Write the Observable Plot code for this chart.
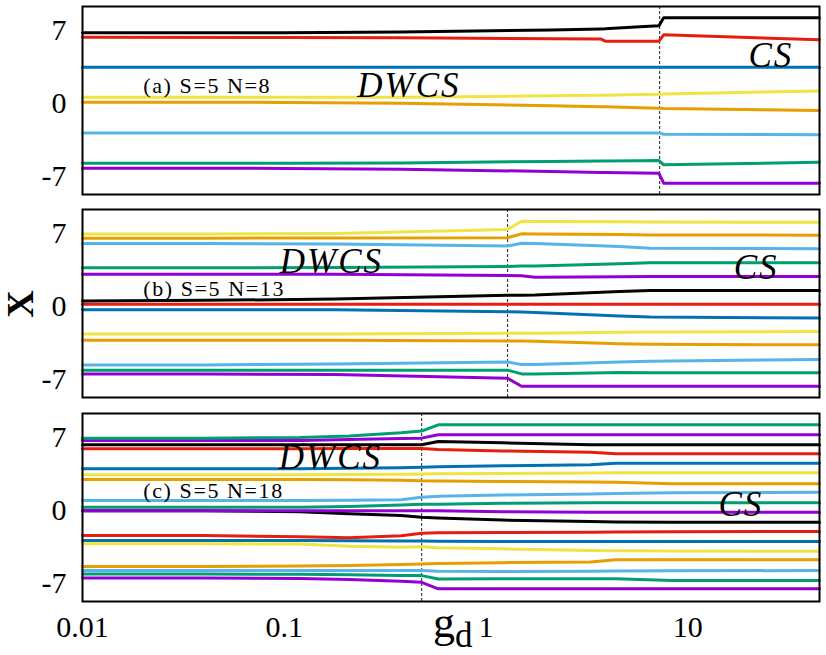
<!DOCTYPE html>
<html>
<head>
<meta charset="utf-8">
<script src="https://cdn.jsdelivr.net/npm/d3@7"></script>
<script src="https://cdn.jsdelivr.net/npm/@observablehq/plot@0.6"></script>
<style>
  html, body { margin: 0; padding: 0; background: #fff; }
  #chart { position: relative; width: 826px; height: 655px; overflow: hidden; font-family: "Liberation Serif", "DejaVu Serif", serif; }
  #chart > svg { position: absolute; left: 0; }
  #chart text { font-family: "Liberation Serif", "DejaVu Serif", serif; }
</style>
</head>
<body>
<div id="chart"></div>
<script>
// gnuplot default colour cycle: purple, green, light blue, orange, yellow, blue, red, black
const colors = ["#9400D3", "#009E73", "#56B4E9", "#E69F00", "#F0E442", "#0072B2", "#E51E10", "#000000"];

const xTicks = [0.01, 0.1, 1, 10];
const yTicks = [-7, 0, 7];

// Panel (a) S=5 N=8
const gdA = [0.01, 0.1, 0.38, 2.1, 3.7, 3.9, 5.8, 7.2, 7.6, 45];
const valuesA = [
  [-6.19, -6.2, -6.28, -6.5, -6.6, -6.6, -6.65, -6.67, -7.62, -7.62],
  [-5.71, -5.71, -5.68, -5.53, -5.5, -5.5, -5.46, -5.45, -5.86, -5.61],
  [-2.8, -2.8, -2.8, -2.8, -2.8, -2.8, -2.8, -2.8, -2.93, -2.97],
  [0.13, 0.12, 0.04, -0.2, -0.3, -0.3, -0.4, -0.44, -0.46, -0.66],
  [0.6, 0.6, 0.62, 0.75, 0.8, 0.8, 0.87, 0.9, 0.92, 1.22],
  [3.49, 3.49, 3.49, 3.49, 3.49, 3.49, 3.49, 3.49, 3.49, 3.49],
  [6.36, 6.33, 6.3, 6.22, 6.2, 5.98, 5.98, 5.98, 6.59, 6.11],
  [6.78, 6.78, 6.85, 7.05, 7.15, 7.16, 7.35, 7.45, 8.22, 8.22]
];

// Panel (b) S=5 N=13
const gdB = [0.01, 0.04, 0.18, 1.28, 1.5, 1.75, 4.6, 6.5, 45];
const valuesB = [
  [-6.44, -6.44, -6.5, -6.85, -7.62, -7.62, -7.62, -7.62, -7.62],
  [-6.1, -6.1, -6.1, -6.08, -6.44, -6.44, -6.3, -6.32, -6.34],
  [-5.58, -5.58, -5.5, -5.3, -5.55, -5.55, -5.3, -5.22, -5.07],
  [-3.22, -3.22, -3.22, -3.3, -3.3, -3.32, -3.55, -3.6, -3.66],
  [-2.62, -2.62, -2.62, -2.55, -2.55, -2.55, -2.45, -2.42, -2.39],
  [-0.3, -0.3, -0.3, -0.5, -0.52, -0.55, -0.9, -1.0, -1.08],
  [0.22, 0.22, 0.22, 0.22, 0.22, 0.22, 0.22, 0.22, 0.22],
  [0.55, 0.6, 0.72, 1.08, 1.1, 1.12, 1.45, 1.54, 1.54],
  [3.1, 3.1, 3.1, 2.98, 2.95, 2.82, 2.85, 2.88, 2.88],
  [3.72, 3.72, 3.75, 3.85, 3.88, 3.9, 4.1, 4.2, 4.2],
  [6.05, 6.05, 6.0, 5.8, 6.07, 6.05, 5.75, 5.6, 5.54],
  [6.55, 6.55, 6.58, 6.6, 6.97, 6.95, 6.9, 6.87, 6.84],
  [6.95, 6.95, 7.0, 7.38, 8.18, 8.15, 8.12, 8.1, 8.08]
];

// Panel (c) S=5 N=18
const gdC = [0.01, 0.04, 0.12, 0.21, 0.38, 0.48, 0.58, 1.2, 3.3, 4.4, 8.4, 45];
const valuesC = [
  [-6.44, -6.44, -6.5, -6.6, -6.75, -6.86, -7.49, -7.49, -7.49, -7.49, -7.49, -7.49],
  [-6.06, -6.06, -6.1, -6.15, -6.2, -6.22, -6.54, -6.53, -6.53, -6.53, -6.7, -6.7],
  [-5.74, -5.74, -5.74, -5.74, -5.74, -5.74, -5.8, -5.83, -5.8, -5.78, -5.75, -5.74],
  [-5.35, -5.35, -5.3, -5.25, -5.15, -5.1, -5.05, -4.98, -4.92, -4.71, -4.71, -4.71],
  [-3.18, -3.18, -3.2, -3.4, -3.5, -3.45, -3.55, -3.66, -3.82, -3.84, -3.87, -3.89],
  [-2.86, -2.86, -2.86, -2.88, -2.9, -2.9, -2.92, -2.96, -2.96, -2.96, -2.96, -2.96],
  [-2.39, -2.39, -2.5, -2.6, -2.4, -2.16, -2.12, -2.1, -2.08, -2.05, -2.02, -2.0],
  [0, 0, -0.1, -0.3, -0.47, -0.63, -0.7, -0.9, -1.04, -1.08, -1.11, -1.11],
  [-0.02, -0.02, -0.02, -0.02, 0.0, 0.0, -0.02, -0.1, -0.15, -0.15, -0.15, -0.15],
  [0.33, 0.33, 0.33, 0.4, 0.55, 0.6, 0.62, 0.7, 0.75, 0.75, 0.75, 0.75],
  [0.97, 0.97, 0.97, 1.0, 1.05, 1.28, 1.38, 1.5, 1.6, 1.65, 1.72, 1.76],
  [2.98, 2.98, 2.98, 2.96, 2.92, 2.85, 2.83, 2.8, 2.75, 2.72, 2.57, 2.57],
  [3.43, 3.43, 3.43, 3.45, 3.48, 3.5, 3.52, 3.55, 3.6, 3.62, 3.62, 3.62],
  [4.0, 4.0, 4.0, 4.05, 4.1, 4.15, 4.2, 4.3, 4.4, 4.54, 4.54, 4.54],
  [5.92, 5.92, 5.93, 5.94, 5.95, 5.95, 5.85, 5.72, 5.6, 5.44, 5.44, 5.44],
  [6.3, 6.3, 6.3, 6.3, 6.3, 6.3, 6.62, 6.5, 6.3, 6.3, 6.3, 6.3],
  [6.71, 6.71, 6.72, 6.8, 6.9, 6.94, 7.26, 7.26, 7.26, 7.26, 7.26, 7.26],
  [6.94, 6.94, 7.0, 7.15, 7.45, 7.62, 8.22, 8.22, 8.22, 8.22, 8.22, 8.22]
];

// transition markers (dashed lines)
const dashGd = [7.26, 1.28, 0.48];

// annotations
const panelLabels = ["(a) S=5 N=8", "(b) S=5 N=13", "(c) S=5 N=18"];
const panelLabelGd = [0.02, 0.02, 0.02];
const panelLabelX = [1.06, 1.06, 1.19];
const dwcsGd = [0.23, 0.095, 0.094];
const dwcsX = [0.68, 3.2, 4.03];
const csGd = [20, 16.9, 14.2];
const csX = [3.55, 2.69, -0.47];

const xDomain = [0.01, 45];
const yDomain = [-8.7, 9.3];
const serif = "Liberation Serif";

function makePanel(k, gd, values, showX) {
  const rows = values.flatMap((vals, i) =>
    vals.map((v, j) => ({gd: gd[j], X: v, s: i, c: colors[i % colors.length]})));
  const marks = [
    Plot.ruleX([dashGd[k]], {stroke: "#222", strokeWidth: 1, strokeDasharray: "3,2"}),
    Plot.line(rows, {x: "gd", y: "X", z: "s", stroke: "c", strokeWidth: 3, strokeLinejoin: "round"}),
    Plot.text([panelLabels[k]], {x: () => panelLabelGd[k], y: () => panelLabelX[k], text: d => d,
      textAnchor: "start", lineAnchor: "bottom", fontSize: 22, fill: "black"}),
    Plot.text(["DWCS"], {x: () => dwcsGd[k], y: () => dwcsX[k], text: d => d,
      textAnchor: "start", lineAnchor: "bottom", fontSize: 35, fontStyle: "italic", fill: "black"}),
    Plot.text(["CS"], {x: () => csGd[k], y: () => csX[k], text: d => d,
      textAnchor: "start", lineAnchor: "bottom", fontSize: 35, fontStyle: "italic", fill: "black"}),
    Plot.axisY({ticks: yTicks, tickSize: 0, tickPadding: 16, fontSize: 30,
      tickFormat: d => (d < 0 ? "-" + Math.abs(d) : String(d)), label: null}),
    Plot.frame({stroke: "black", strokeWidth: 2})
  ];
  if (showX) {
    marks.push(Plot.axisX({ticks: xTicks, tickSize: 0, tickPadding: 14, fontSize: 30,
      tickFormat: d => String(d), label: null}));
  }
  return Plot.plot({
    width: 826,
    height: showX ? 242 : 200,
    marginLeft: 82,
    marginRight: 7,
    marginTop: 6,
    marginBottom: showX ? 48 : 6,
    style: {fontFamily: serif, background: "transparent", overflow: "visible"},
    x: {type: "log", domain: xDomain, axis: null},
    y: {domain: yDomain, axis: null},
    color: {type: "identity"},
    marks
  });
}

const chart = document.getElementById("chart");
const tops = [0, 203, 407];
[[gdA, valuesA], [gdB, valuesB], [gdC, valuesC]].forEach(([gd, values], k) => {
  const svg = makePanel(k, gd, values, k === 2);
  svg.style.top = tops[k] + "px";
  svg.querySelectorAll("text").forEach(t => {
    t.setAttribute("font-family", serif);
    const s = t.textContent;
    if (s.startsWith("(")) t.setAttribute("letter-spacing", "1.6");
    if (s === "DWCS" || s === "CS") t.setAttribute("letter-spacing", "2");
  });
  chart.appendChild(svg);
});

// axis titles overlay
const overlay = d3.select(chart).append("svg")
  .attr("width", 826).attr("height", 655)
  .style("top", "0px").style("pointer-events", "none");
overlay.append("text")
  .attr("transform", "translate(33,304) rotate(-90)")
  .attr("text-anchor", "middle")
  .attr("font-family", serif).attr("font-weight", "bold").attr("font-size", 38)
  .text("X");
const gl = overlay.append("text")
  .attr("x", 433).attr("y", 637)
  .attr("font-family", serif);
gl.append("tspan").attr("font-size", 44).text("g");
gl.append("tspan").attr("font-size", 35).attr("dy", 10).text("d");
</script>
</body>
</html>
